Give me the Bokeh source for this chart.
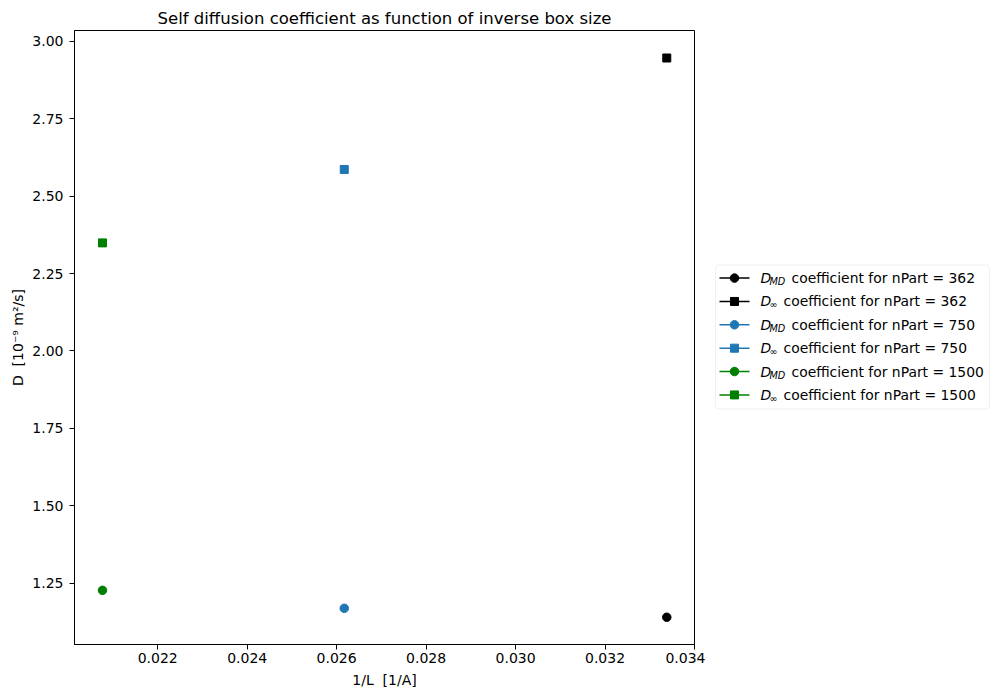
from bokeh.plotting import figure
from bokeh.layouts import row
from bokeh.models import Range1d, FixedTicker, NumeralTickFormatter, BoxAnnotation
from bokeh.core.properties import value
from bokeh.embed import file_html
from bokeh.resources import INLINE

# data
n_part = [362, 750, 1500]
inv_box_size = [0.03338, 0.02617, 0.020765]   # 1/L [1/A]
d_md = [1.140, 1.169, 1.227]                   # D_MD [1e-9 m^2/s]
d_inf = [2.946, 2.586, 2.349]                  # D_inf [1e-9 m^2/s]
series_colors = ["black", "#1f77b4", "green"]

x_ticks = [0.022, 0.024, 0.026, 0.028, 0.030, 0.032, 0.034]
y_ticks = [1.25, 1.50, 1.75, 2.00, 2.25, 2.50, 2.75, 3.00]

FONT = "DejaVu Sans"

# main plot
p = figure(width=705, height=690, output_backend="svg", toolbar_location=None,
           x_range=Range1d(0.020139, 0.034), y_range=Range1d(1.0521, 3.0348),
           min_border_left=74, min_border_right=11, min_border_top=30, min_border_bottom=45,
           title="Self diffusion coefficient as function of inverse box size")
p.title.align = "center"
p.title.text_font = FONT
p.title.text_font_size = "16.5px"
p.title.text_font_style = "normal"
p.title.text_color = "black"
p.title.standoff = 5
p.outline_line_color = "black"
p.outline_line_alpha = 1.0
p.grid.visible = False

for ax in (p.xaxis, p.yaxis):
    ax.major_tick_in = 0
    ax.major_tick_out = 5
    ax.minor_tick_in = 0
    ax.minor_tick_out = 0
    ax.axis_line_color = "black"
    ax.major_tick_line_color = "black"
    ax.major_label_text_font = FONT
    ax.major_label_text_font_size = "14px"
    ax.major_label_text_color = "black"
    ax.axis_label_text_font = FONT
    ax.axis_label_text_font_size = "14px"
    ax.axis_label_text_font_style = "normal"
    ax.axis_label_text_color = "black"

p.xaxis.ticker = FixedTicker(ticks=x_ticks)
p.yaxis.ticker = FixedTicker(ticks=y_ticks)
p.xaxis.formatter = NumeralTickFormatter(format="0.000")
p.yaxis.formatter = NumeralTickFormatter(format="0.00")
p.xaxis.axis_label = "1/L \u00a0[1/A]"
p.yaxis.axis_label = "D \u00a0[10\u207b\u2079 m\u00b2/s]"
p.xaxis.major_label_standoff = 3
p.xaxis.axis_label_standoff = 6
p.yaxis.major_label_standoff = 6
p.yaxis.axis_label_standoff = 3

for i in range(len(n_part)):
    p.line([inv_box_size[i]], [d_md[i]], line_color=series_colors[i], line_width=1.5)
    p.scatter([inv_box_size[i]], [d_md[i]], marker="circle", size=8.5,
              fill_color=series_colors[i], line_color=series_colors[i])
    p.line([inv_box_size[i]], [d_inf[i]], line_color=series_colors[i], line_width=1.5)
    p.scatter([inv_box_size[i]], [d_inf[i]], marker="square", size=8,
              fill_color=series_colors[i], line_color=series_colors[i])

# legend drawn in a side panel; its ranges are screen pixel coordinates (y downwards)
leg = figure(width=287, height=690, output_backend="svg", toolbar_location=None,
             x_range=Range1d(706, 993), y_range=Range1d(646, 31),
             x_axis_type=None, y_axis_type=None,
             min_border_left=0, min_border_right=0, min_border_top=30, min_border_bottom=45)
leg.outline_line_color = None
leg.grid.visible = False

leg.add_layout(BoxAnnotation(left=716, right=990, top=266, bottom=410, level="underlay",
                             fill_color="white", fill_alpha=0.8,
                             line_color="#cccccc", line_width=1, border_radius=3))

row_y0, row_dy = 279, 23.4
for k in range(2 * len(n_part)):
    i, kind = k // 2, k % 2
    y = row_y0 + k * row_dy
    c = series_colors[i]
    leg.line([720, 750], [y, y], line_color=c, line_width=1.5)
    leg.scatter([735], [y], marker="square" if kind else "circle", size=8 if kind else 8.5,
                fill_color=c, line_color=c)
    leg.text([761], [y], text=["D"], text_font=value(FONT), text_font_size="13.9px",
             text_font_style="italic", text_baseline="middle", text_color="black")
    if kind == 0:
        leg.text([770], [y + 3.5], text=["MD"], text_font=value(FONT), text_font_size="9.7px",
                 text_font_style="italic", text_baseline="middle", text_color="black")
        tx = 792
    else:
        leg.text([770], [y + 3.5], text=["\u221e"], text_font=value(FONT), text_font_size="9.7px",
                 text_baseline="middle", text_color="black")
        tx = 784
    leg.text([tx], [y], text=["coefficient for nPart = %d" % n_part[i]], text_font=value(FONT),
             text_font_size="13.9px", text_baseline="middle", text_color="black")

layout = row(p, leg)
open("out.html", "w").write(file_html(layout, INLINE))
